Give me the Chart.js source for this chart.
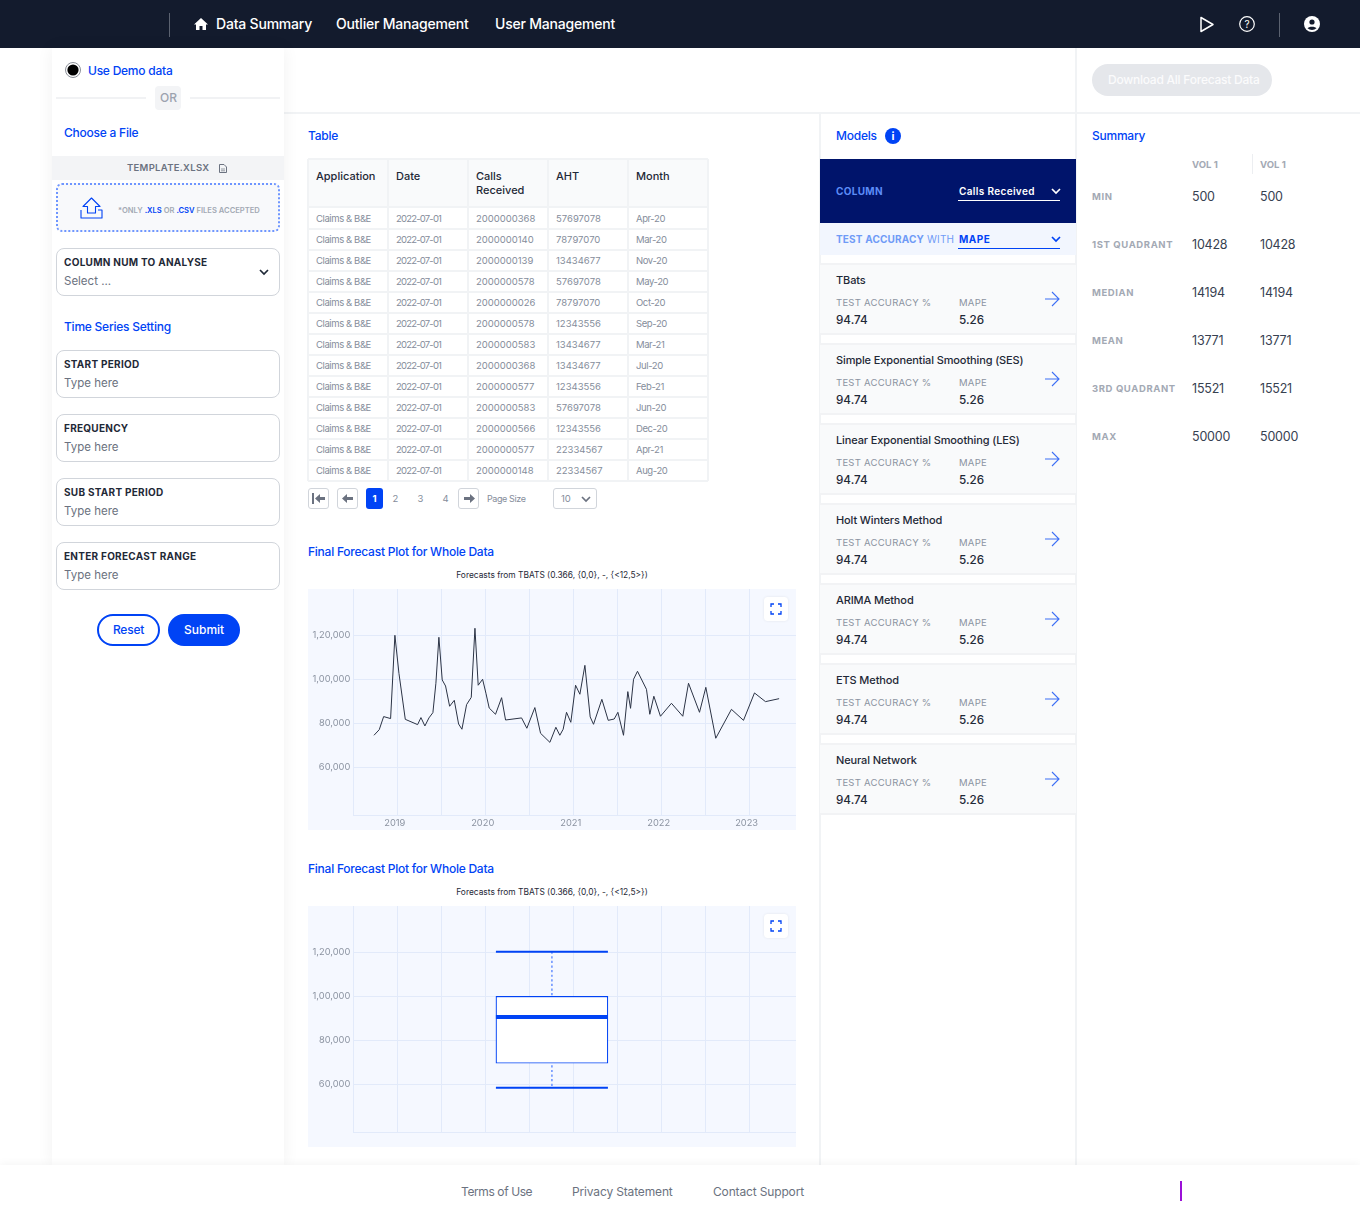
<!DOCTYPE html>
<html>
<head>
<meta charset="utf-8">
<title>Data Summary</title>
<script src="https://cdn.jsdelivr.net/npm/chart.js@4/dist/chart.umd.min.js"></script>
<style>
    * { box-sizing: border-box; }
    html, body { margin: 0; padding: 0; background: #fff; }
    body { position: relative; width: 1360px; height: 1213px; overflow: hidden; font-family: Inter, "Noto Sans", sans-serif; color: #1f2937; }
    .abs { position: absolute; }
    .t { position: absolute; white-space: nowrap; transform: translateY(-50%); line-height: 1.2; }
    .nav { color: #fff; font-size: 14px; font-weight: 500; letter-spacing: -.2px; }
    .blue { color: #0043f5; font-size: 12px; font-weight: 500; letter-spacing: -.24px; }
    .lbl { font-size: 10px; font-weight: 700; letter-spacing: .27px; color: #1f2937; }
    .ph { font-size: 11.5px; color: #6b7280; }
    .cell { font-size: 9.5px; color: #858d9b; }
    .tight { letter-spacing: -.4px; }
    .date { letter-spacing: -.8px; }
    .head { font-size: 11px; font-weight: 500; color: #1f2937; line-height: 14px; }
    .muted { font-size: 9.5px; color: #8b93a1; letter-spacing: .25px; }
    .val { font-size: 11.7px; font-weight: 500; color: #1f2937; }
    .name { font-size: 11px; font-weight: 500; color: #1f2937; letter-spacing: -.12px; }
    .sumlbl { font-size: 9.5px; font-weight: 700; letter-spacing: .6px; color: #a3a9b4; }
    .sumval { font-size: 12.5px; color: #374151; letter-spacing: -.2px; }
    .foot { font-size: 12px; color: #6b7280; letter-spacing: -.15px; }
    .title { font-size: 8.4px; color: #1f2937; left: 308px; width: 488px; text-align: center; }
    .field { position: absolute; left: 56px; width: 224px; height: 48px; border: 1px solid #d1d5db; border-radius: 8px; background: #fff; }
    .card { position: absolute; left: 820px; width: 256px; height: 72px; background: #f9fafb; border-top: 2px solid #f2f3f5; border-bottom: 2px solid #f2f3f5; }
    .pg { position: absolute; top: 488px; width: 21px; height: 21px; border: 1px solid #d1d5db; border-radius: 3px; background: #fff; }
    canvas { position: absolute; left: 308px; background: #f5f8ff; }
    .expand { position: absolute; left: 764px; width: 24px; height: 24px; background: #fff; border-radius: 4px; box-shadow: 0 0 3px rgba(0,0,0,.08); }
    svg { position: absolute; overflow: visible; }
</style>
</head>
<body>
<script>
// values
const tableHeaders = ["Application", "Date", "Calls<br>Received", "AHT", "Month"];
const tableCalls = ["2000000368", "2000000140", "2000000139", "2000000578", "2000000026", "2000000578", "2000000583", "2000000368", "2000000577", "2000000583", "2000000566", "2000000577", "2000000148"];
const tableAht = ["57697078", "78797070", "13434677", "57697078", "78797070", "12343556", "13434677", "13434677", "12343556", "57697078", "12343556", "22334567", "22334567"];
const tableMonths = ["Apr-20", "Mar-20", "Nov-20", "May-20", "Oct-20", "Sep-20", "Mar-21", "Jul-20", "Feb-21", "Jun-20", "Dec-20", "Apr-21", "Aug-20"];
const modelNames = ["TBats", "Simple Exponential Smoothing (SES)", "Linear Exponential Smoothing (LES)", "Holt Winters Method", "ARIMA Method", "ETS Method", "Neural Network"];
const summaryLabels = ["MIN", "1ST QUADRANT", "MEDIAN", "MEAN", "3RD QUADRANT", "MAX"];
const summaryValues = ["500", "10428", "14194", "13771", "15521", "50000"];
const settingLabels = ["START PERIOD", "FREQUENCY", "SUB START PERIOD", "ENTER FORECAST RANGE"];

const forecastYears = [2018.735, 2018.795, 2018.845, 2018.924, 2018.973, 2019.019, 2019.091, 2019.231, 2019.269, 2019.314, 2019.36, 2019.405, 2019.439, 2019.473, 2019.511, 2019.549, 2019.595, 2019.648, 2019.697, 2019.735, 2019.788, 2019.841, 2019.883, 2019.92, 2019.97, 2020.008, 2020.045, 2020.117, 2020.186, 2020.231, 2020.413, 2020.473, 2020.564, 2020.629, 2020.735, 2020.803, 2020.848, 2020.886, 2020.924, 2020.973, 2021.027, 2021.076, 2021.133, 2021.193, 2021.231, 2021.326, 2021.398, 2021.466, 2021.508, 2021.572, 2021.621, 2021.652, 2021.686, 2021.731, 2021.833, 2021.871, 2021.917, 2021.992, 2022.117, 2022.246, 2022.311, 2022.436, 2022.508, 2022.621, 2022.799, 2022.936, 2023.061, 2023.186, 2023.341];
const forecastValues = [74550, 77100, 83050, 82150, 120000, 102700, 81800, 79400, 82600, 78800, 82450, 84850, 98200, 119100, 99700, 96950, 87750, 90450, 79700, 77300, 88500, 91800, 123200, 97300, 100000, 93650, 86950, 84100, 91650, 81500, 82450, 77750, 87150, 75450, 71350, 78200, 74550, 77300, 85000, 80450, 97300, 93200, 106350, 82900, 79550, 90900, 81350, 81950, 85000, 74550, 94400, 86800, 100000, 103650, 95450, 84100, 92300, 83200, 89100, 83200, 98200, 85000, 96350, 73200, 86350, 81350, 93800, 89850, 91200];

const yTickValues = [60000, 80000, 100000, 120000];
const yTickLabels = ["60,000", "80,000", "1,00,000", "1,20,000"];
const xTickValues = [2018.5, 2019, 2019.5, 2020, 2020.5, 2021, 2021.5, 2022, 2022.5, 2023];
const xTickLabels = ["", "2019", "", "2020", "", "2021", "", "2022", "", "2023"];
const yMin = 38180;
const yMax = 141050;

const boxGridValues = [0, 1, 2, 3, 4, 5, 6, 7, 8, 9];
const boxPosition = 4.516;
const boxMin = 58400;
const boxQ1 = 69550;
const boxMedian = 90600;
const boxQ3 = 100000;
const boxMax = 120300;

const BLUE = "#0043f5";
const GRID = "#e2eafa";
const TICK = "#8b93a1";

function put(text, x, y, cls, extra) {
    const el = document.createElement("div");
    el.className = "t " + cls;
    el.innerHTML = text;
    el.style.left = x + "px";
    el.style.top = y + "px";
    if (extra) el.style.cssText += extra;
    document.body.appendChild(el);
    return el;
}

function box(x, y, w, h, css, cls) {
    const el = document.createElement("div");
    el.className = cls || "abs";
    el.style.left = x + "px";
    el.style.top = y + "px";
    el.style.width = w + "px";
    el.style.height = h + "px";
    el.style.cssText += css || "";
    document.body.appendChild(el);
    return el;
}

function icon(x, y, w, h, inner) {
    const holder = document.createElement("div");
    holder.innerHTML = '<svg style="left:' + x + 'px;top:' + y + 'px" width="' + w + '" height="' + h + '" viewBox="0 0 ' + w + ' ' + h + '" fill="none">' + inner + "</svg>";
    document.body.appendChild(holder);
}

function chevron(cx, cy, color) {
    icon(cx - 5, cy - 3, 10, 6, '<path d="M1 1l4 4 4-4" stroke="' + color + '" stroke-width="1.7"/>');
}

// header
box(0, 0, 1360, 48, "background:#131b2d");
box(169, 13, 1, 24, "background:#5b6270");
box(1279, 13, 1, 24, "background:#5b6270");
icon(194, 17, 14, 14, '<path d="M7 1L0 7.5h2V13h3.5V9h3v4H12V7.5h2z" fill="#fff"/>');
put("Data Summary", 216, 24, "nav");
put("Outlier Management", 336, 24, "nav");
put("User Management", 495, 24, "nav");
icon(1199, 16, 16, 17, '<path d="M2 1.5v14l12-7z" stroke="#fff" stroke-width="1.5" stroke-linejoin="round"/>');
icon(1239, 16, 16, 16, '<circle cx="8" cy="8" r="7.3" stroke="#fff" stroke-width="1.2"/><text x="8" y="11.5" font-size="10" fill="#fff" text-anchor="middle" font-family="Inter">?</text>');
icon(1304, 16, 16, 16, '<circle cx="8" cy="8" r="8" fill="#fff"/><circle cx="8" cy="6" r="2.6" fill="#131b2d"/><path d="M3.5 12.3c1-2.2 8-2.2 9 0a6.5 6.5 0 0 1-9 0z" fill="#131b2d"/>');

// page dividers
box(284, 112, 1076, 2, "background:#f1f3f5");
box(819, 113, 2, 1052, "background:#f1f3f5");
box(1075, 48, 2, 1117, "background:#f1f3f5");

// left panel
box(52, 48, 232, 1117, "background:#fff;box-shadow:0 0 16px rgba(0,0,0,.06)");
icon(65, 62, 16, 16, '<circle cx="8" cy="8" r="7.5" fill="#fff" stroke="#8b8f98"/><circle cx="8" cy="8" r="5.6" fill="#000"/>');
put("Use Demo data", 88, 71, "blue");
box(56, 97, 90, 2, "background:#f1f2f4");
box(190, 97, 90, 2, "background:#f1f2f4");
box(155, 86, 26, 24, "background:#f3f4f6;border-radius:4px");
put("OR", 160, 98, "", "font-size:12px;color:#9ca3af;font-weight:500");
put("Choose a File", 64, 132.5, "blue");
box(52, 156, 232, 24, "background:#f3f4f6");
put("TEMPLATE.XLSX", 127, 167.5, "", "font-size:9.5px;font-weight:600;letter-spacing:.3px;color:#6b7280");
icon(219, 164, 8, 9, '<path d="M.5.5h4.5l2.5 2.5v5.5h-7z" stroke="#6b7280"/><path d="M2 5h4M2 6.8h4" stroke="#6b7280" stroke-width=".7"/>');
box(56, 183, 224, 49, "background:#f8f9fb;border:2px dotted #6f96ff;border-radius:6px");
icon(80, 197, 23, 23, '<path d="M11.5 1L3 9.5h4.5V16h8V9.5H20z M1 13v8h21v-8h-4" stroke="#0043f5" stroke-width="1.1" stroke-linejoin="round"/>');
put('*ONLY <span style="color:#0043f5">.XLS</span> OR <span style="color:#0043f5">.CSV</span> FILES ACCEPTED', 118, 210.5, "", "font-size:7.6px;font-weight:600;color:#a3a9b4");
box(56, 248, 224, 48, "", "field");
put("COLUMN NUM TO ANALYSE", 64, 261.5, "lbl");
put("Select ...", 64, 281.5, "ph");
chevron(264, 271.5, "#1f2937");
put("Time Series Setting", 64, 327, "blue");
settingLabels.forEach(function (label, i) {
    const top = 350 + i * 64;
    box(56, top, 224, 48, "", "field");
    put(label, 64, top + 13.5, "lbl");
    put("Type here", 64, top + 33.5, "ph");
});
box(97, 614, 63, 32, "border:2px solid #0043f5;border-radius:16px;background:#fff");
put("Reset", 113, 630, "blue");
box(168, 614, 72, 32, "background:#0043f5;border-radius:16px");
put("Submit", 184, 630, "", "font-size:12px;font-weight:500;color:#fff");

// table
put("Table", 308, 135.5, "blue");
const colX = [308, 388, 468, 548, 628];
box(308, 159, 400, 48, "background:#f9fafb");
box(308, 158, 400, 2, "background:#f1f3f5");
box(308, 206, 400, 2, "background:#f1f3f5");
colX.forEach(function (x) { box(x - 1, 159, 2, 322, "background:#f1f3f5"); });
box(707, 159, 2, 322, "background:#f1f3f5");
tableHeaders.forEach(function (h, i) {
    put(h, colX[i] + 8, 183 + (i === 2 ? 0 : -7), "head");
});
tableCalls.forEach(function (calls, i) {
    const y = 218.7 + i * 21;
    box(308, y + 9.5, 400, 2, "background:#f1f3f5");
    put("Claims &amp; B&amp;E", colX[0] + 8, y, "cell tight");
    put("2022-07-01", colX[1] + 8, y, "cell date");
    put(calls, colX[2] + 8, y, "cell");
    put(tableAht[i], colX[3] + 8, y, "cell");
    put(tableMonths[i], colX[4] + 8, y, "cell tight");
});

// pagination
[308, 337, 458].forEach(function (x) { box(x, 488, 21, 21, "", "pg"); });
icon(312, 493, 14, 11, '<path d="M1 0v11" stroke="#6b7280" stroke-width="2"/><path d="M3 5.5L8 1v3h5v3H8v3z" fill="#6b7280"/>');
icon(342, 493, 12, 11, '<path d="M0 5.5L5 1v3h6v3H5v3z" fill="#6b7280"/>');
icon(463, 493, 12, 11, '<path d="M12 5.5L7 1v3H1v3h6v3z" fill="#6b7280"/>');
box(366, 488, 17, 21, "background:#0043f5;border-radius:3px");
put("1", 372.5, 498.5, "", "font-size:9.5px;font-weight:700;color:#fff");
put("2", 392.5, 498.5, "cell");
put("3", 417.5, 498.5, "cell");
put("4", 442.5, 498.5, "cell");
put("Page Size", 487, 498.5, "cell tight", "font-size:9px");
box(553, 488, 44, 21, "border:1px solid #d1d5db;border-radius:3px");
put("10", 561, 498.5, "cell");
chevron(586, 498.5, "#6b7280");

// forecast sections
put("Final Forecast Plot for Whole Data", 308, 552, "blue");
put("Forecasts from TBATS (0.366, {0,0}, -, {&lt;12,5&gt;})", 308, 575, "title");
put("Final Forecast Plot for Whole Data", 308, 869, "blue");
put("Forecasts from TBATS (0.366, {0,0}, -, {&lt;12,5&gt;})", 308, 892, "title");

const lineCanvas = document.createElement("canvas");
lineCanvas.id = "linePlot";
lineCanvas.width = 488;
lineCanvas.height = 241;
lineCanvas.style.top = "589px";
document.body.appendChild(lineCanvas);
const boxCanvas = document.createElement("canvas");
boxCanvas.id = "boxPlot";
boxCanvas.width = 488;
boxCanvas.height = 241;
boxCanvas.style.top = "906px";
document.body.appendChild(boxCanvas);

[597, 914].forEach(function (top) {
    box(764, top, 24, 24, "", "expand");
    icon(771, top + 7, 10, 10, '<path d="M0 3V0h3M7 0h3v3M10 7v3H7M3 10H0V7" stroke="#0043f5" stroke-width="1.3"/>');
});

// models
put("Models", 836, 135.5, "blue");
icon(885, 127.5, 16, 16, '<circle cx="8" cy="8" r="8" fill="#0043f5"/><text x="8" y="12" font-size="11" font-weight="700" fill="#fff" text-anchor="middle" font-family="Inter">i</text>');
box(820, 159, 256, 64, "background:#00146b");
put("COLUMN", 836, 191, "", "font-size:10px;font-weight:700;letter-spacing:.3px;color:#5c8cf7");
put("Calls Received", 959, 191, "", "font-size:10px;font-weight:600;letter-spacing:.35px;color:#fff");
box(958, 200, 102, 1, "background:#fff");
chevron(1056, 191, "#fff");
box(820, 223, 256, 32, "background:#f2f6fe");
put('<b style="font-weight:700">TEST ACCURACY</b> WITH', 836, 239, "", "font-size:10px;letter-spacing:.17px;color:#6f9bf7");
put("MAPE", 959, 239, "", "font-size:10px;font-weight:700;letter-spacing:.5px;color:#0043f5");
box(958, 248, 102, 1, "background:#0043f5");
chevron(1056, 239, "#0043f5");
modelNames.forEach(function (name, i) {
    const top = 263 + i * 80;
    box(820, top, 256, 72, "", "card");
    put(name, 836, top + 17.5, "name");
    put("TEST ACCURACY %", 836, top + 39.5, "muted");
    put("MAPE", 959, top + 39.5, "muted");
    put("94.74", 836, top + 57, "val");
    put("5.26", 959, top + 57, "val");
    icon(1045, top + 28, 15, 16, '<path d="M0 8h14M7 1l7 7-7 7" stroke="#3d6ff5" stroke-width="1.1"/>');
});

// summary
box(1092, 64, 180, 32, "background:#e5e7eb;border-radius:16px");
put("Download All Forecast Data", 1108, 80, "", "font-size:12px;font-weight:500;letter-spacing:-.24px;color:#fbfbfc");
put("Summary", 1092, 136, "blue");
put("VOL 1", 1192, 164.5, "sumlbl", "letter-spacing:0");
put("VOL 1", 1260, 164.5, "sumlbl", "letter-spacing:0");
box(1252, 154, 1, 20, "background:#eceef1");
summaryLabels.forEach(function (label, i) {
    const y = 195.5 + i * 48;
    put(label, 1092, y + 1, "sumlbl");
    put(summaryValues[i], 1192, y, "sumval");
    put(summaryValues[i], 1260, y, "sumval");
});

// footer
box(0, 1165, 1360, 48, "background:#fff;box-shadow:0 -2px 8px rgba(0,0,0,.04)");
put("Terms of Use", 461, 1192, "foot", "letter-spacing:-.4px");
put("Privacy Statement", 572, 1192, "foot");
put("Contact Support", 713, 1192, "foot");
box(1180, 1181, 2, 20, "background:#9b10d8");

// chart.js reserves room for half a label at the axis ends, the plot should fill the canvas
function noEndPadding(scale) {
    scale.paddingTop = 0;
    scale.paddingBottom = 0;
    scale.paddingLeft = 0;
    scale.paddingRight = 0;
}

function yAxis() {
    return {
        min: yMin,
        max: yMax,
        afterFit: function (scale) {
            scale.width = 45.3;
            noEndPadding(scale);
        },
        afterBuildTicks: function (scale) {
            scale.ticks = yTickValues.map(function (v) { return { value: v }; });
        },
        grid: { color: GRID, drawTicks: false },
        border: { color: GRID },
        ticks: {
            padding: 3,
            color: TICK,
            font: { family: "Inter", size: 9.3 },
            callback: function (value) { return yTickLabels[yTickValues.indexOf(value)]; },
        },
    };
}

Chart.defaults.animation = false;

new Chart(lineCanvas, {
    type: "line",
    data: {
        datasets: [{
            data: forecastYears.map(function (year, i) { return { x: year, y: forecastValues[i] }; }),
            borderColor: "#2b3345",
            borderWidth: 1,
            pointRadius: 0,
            tension: 0,
        }],
    },
    options: {
        responsive: false,
        layout: { padding: 0 },
        plugins: { legend: { display: false }, tooltip: { enabled: false } },
        scales: {
            x: {
                type: "linear",
                min: 2018.5,
                max: 2023.533,
                afterFit: function (scale) {
                    scale.height = 14.7;
                    noEndPadding(scale);
                },
                afterBuildTicks: function (scale) {
                    scale.ticks = xTickValues.map(function (v) { return { value: v }; });
                },
                grid: { color: GRID, drawTicks: false },
                border: { color: GRID },
                ticks: {
                    autoSkip: false,
                    maxRotation: 0,
                    padding: 2,
                    labelOffset: -2.5,
                    color: TICK,
                    font: { family: "Inter", size: 9.3 },
                    callback: function (value) { return xTickLabels[xTickValues.indexOf(value)]; },
                },
            },
            y: yAxis(),
        },
    },
});

const whiskers = {
    id: "whiskers",
    afterDatasetsDraw: function (chart) {
        const bar = chart.getDatasetMeta(0).data[0];
        const y = chart.scales.y;
        const left = bar.x - bar.width / 2;
        const right = bar.x + bar.width / 2;
        const ctx = chart.ctx;
        ctx.save();
        ctx.strokeStyle = "#6f96ff";
        ctx.lineWidth = 1.6;
        ctx.setLineDash([2.2, 2.4]);
        ctx.beginPath();
        ctx.moveTo(bar.x, y.getPixelForValue(boxMax));
        ctx.lineTo(bar.x, y.getPixelForValue(boxQ3));
        ctx.moveTo(bar.x, y.getPixelForValue(boxQ1) + 2);
        ctx.lineTo(bar.x, y.getPixelForValue(boxMin));
        ctx.stroke();
        ctx.setLineDash([]);
        ctx.strokeStyle = BLUE;
        ctx.lineWidth = 2;
        [boxMax, boxMin].forEach(function (v) {
            ctx.beginPath();
            ctx.moveTo(left, y.getPixelForValue(v));
            ctx.lineTo(right, y.getPixelForValue(v));
            ctx.stroke();
        });
        ctx.lineWidth = 4;
        ctx.beginPath();
        ctx.moveTo(left, y.getPixelForValue(boxMedian));
        ctx.lineTo(right, y.getPixelForValue(boxMedian));
        ctx.stroke();
        ctx.restore();
    },
};

new Chart(boxCanvas, {
    type: "bar",
    data: {
        datasets: [{
            data: [{ x: boxPosition, y: [boxQ1, boxQ3] }],
            backgroundColor: "#ffffff",
            borderColor: BLUE,
            borderWidth: 1.2,
            borderSkipped: false,
            barThickness: 112,
        }],
    },
    options: {
        responsive: false,
        layout: { padding: 0 },
        plugins: { legend: { display: false }, tooltip: { enabled: false } },
        scales: {
            x: {
                type: "linear",
                offset: false,
                min: 0,
                max: 10.066,
                afterFit: function (scale) {
                    scale.height = 14.7;
                    noEndPadding(scale);
                },
                afterBuildTicks: function (scale) {
                    scale.ticks = boxGridValues.map(function (v) { return { value: v }; });
                },
                grid: { color: GRID, drawTicks: false, offset: false },
                border: { color: GRID },
                ticks: { display: false },
            },
            y: yAxis(),
        },
    },
    plugins: [whiskers],
});
</script>
</body>
</html>
